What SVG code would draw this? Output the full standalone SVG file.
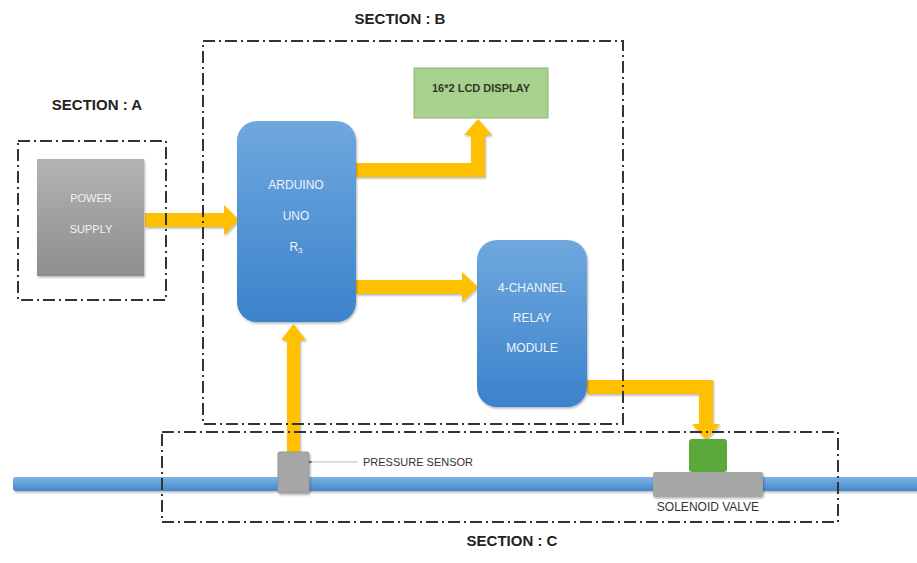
<svg xmlns="http://www.w3.org/2000/svg" width="917" height="563" viewBox="0 0 917 563">
<style>
.sec{fill:none;stroke:#333;stroke-width:2;stroke-dasharray:12 4 2 4}
.lbl{font-family:"Liberation Sans",Arial,sans-serif;font-weight:bold;font-size:15px;fill:#222;text-anchor:middle}
.wt{font-family:"Liberation Sans",Arial,sans-serif;font-size:12px;fill:#eef4fb;text-anchor:middle}
.dk{font-family:"Liberation Sans",Arial,sans-serif;font-size:11px;fill:#333}
.arr{fill:#ffc000;filter:url(#sh)}
</style>
<defs>
<linearGradient id="blue" x1="0" y1="0" x2="0" y2="1"><stop offset="0" stop-color="#6fa8de"/><stop offset="1" stop-color="#3b82cc"/></linearGradient>
<linearGradient id="gray" x1="0" y1="0" x2="0" y2="1"><stop offset="0" stop-color="#b3b3b3"/><stop offset="1" stop-color="#8e8e8e"/></linearGradient>
<linearGradient id="pipe" x1="0" y1="0" x2="0" y2="1"><stop offset="0" stop-color="#7db3e6"/><stop offset="1" stop-color="#4687c9"/></linearGradient>
<filter id="sh" x="-10%" y="-10%" width="130%" height="130%"><feDropShadow dx="1" dy="1.5" stdDeviation="1.2" flood-color="#000" flood-opacity="0.3"/></filter>
<marker id="tri" markerWidth="8" markerHeight="8" refX="1" refY="4" orient="auto-start-reverse" markerUnits="userSpaceOnUse"><path d="M8,0 L0,4 L8,8 Z" fill="#222"/></marker>
</defs>
<rect width="917" height="563" fill="#fff"/>

<g id="pipe-line"><rect x="13" y="477" width="910" height="14" rx="3" fill="url(#pipe)" filter="url(#sh)"/></g>

<g id="connectors">
<polygon class="arr" points="145,213 224,213 224,205 239,220 224,235 224,227 145,227"/>
<polygon class="arr" points="356,163 471,163 471,135 464,135 478,119 492,135 485,135 485,177 356,177"/>
<polygon class="arr" points="356,280 462,280 462,272 478,287 462,302 462,294 356,294"/>
<polygon class="arr" points="587,380 713,380 713,424 720,424 706,440 692,424 699,424 699,394 587,394"/>
<polygon class="arr" points="287,455 287,340 281,340 293.5,324 306,340 300,340 300,455"/>
<line x1="358" y1="462" x2="311" y2="462" stroke="#bbb" stroke-width="1" marker-end="url(#tri)"/>
</g>

<g id="power-supply">
<rect x="37" y="159" width="107" height="117" fill="url(#gray)" filter="url(#sh)"/>
<text class="wt" x="91" y="202" style="font-size:11px">POWER</text>
<text class="wt" x="91" y="233" style="font-size:11px">SUPPLY</text>
</g>

<g id="arduino">
<rect x="237" y="121" width="119" height="201" rx="20" fill="url(#blue)" filter="url(#sh)"/>
<text class="wt" x="296" y="189">ARDUINO</text>
<text class="wt" x="296" y="220">UNO</text>
<text class="wt" x="296" y="251">R<tspan font-size="8" dy="2">3</tspan></text>
</g>

<g id="lcd">
<rect x="414" y="68" width="134" height="50" fill="#a9d18e" stroke="#8cb870" stroke-width="1"/>
<text x="481" y="92" style="font-family:'Liberation Sans',Arial,sans-serif;font-size:11px;font-weight:bold;fill:#2f3a28;text-anchor:middle">16*2 LCD DISPLAY</text>
</g>

<g id="relay">
<rect x="477" y="240" width="110" height="167" rx="20" fill="url(#blue)" filter="url(#sh)"/>
<text class="wt" x="532" y="292">4-CHANNEL</text>
<text class="wt" x="532" y="322">RELAY</text>
<text class="wt" x="532" y="352">MODULE</text>
</g>

<g id="pressure-sensor">
<rect x="278" y="452" width="31" height="41" rx="2" fill="#a6a6a6" stroke="#999" filter="url(#sh)"/>
<text class="dk" x="363" y="466">PRESSURE SENSOR</text>
</g>

<g id="solenoid-valve">
<rect x="653" y="472" width="110" height="25" rx="2" fill="#a6a6a6" filter="url(#sh)"/>
<rect x="689" y="439" width="38" height="33" rx="3" fill="#5aa83a"/>
<text class="dk" x="708" y="511" text-anchor="middle" style="font-size:12px">SOLENOID VALVE</text>
</g>

<g id="sections">
<rect class="sec" x="18" y="141" width="148" height="159"/>
<rect class="sec" x="203" y="41" width="420" height="383"/>
<rect class="sec" x="162" y="432" width="676" height="90"/>
<text class="lbl" x="97" y="110">SECTION : A</text>
<text class="lbl" x="400" y="24">SECTION : B</text>
<text class="lbl" x="512" y="546">SECTION : C</text>
</g>
</svg>
